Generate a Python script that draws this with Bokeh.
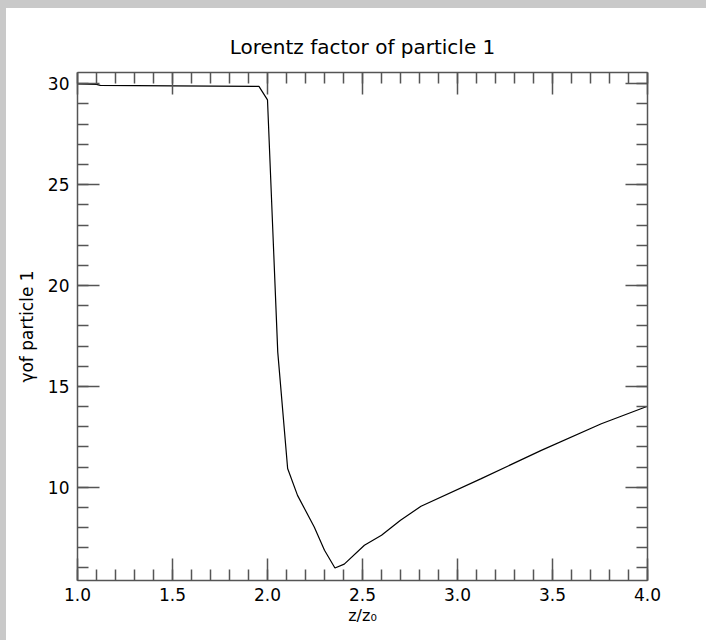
from bokeh.plotting import figure
from bokeh.models import (LinearAxis, SingleIntervalTicker, Range1d, Spacer,
                          PrintfTickFormatter, CustomJSTickFormatter)
from bokeh.layouts import row, column
from bokeh.embed import file_html
from bokeh.resources import INLINE

# data
z = [1.0, 1.1, 1.12, 1.5, 1.955, 2.0, 2.054, 2.106, 2.158, 2.246, 2.30,
     2.355, 2.404, 2.51, 2.60, 2.70, 2.808, 3.125, 3.441, 3.757, 4.0]
gamma = [30.0, 29.97, 29.92, 29.9, 29.87, 29.2, 16.7, 10.93, 9.6, 8.03, 6.88,
         6.0, 6.19, 7.13, 7.62, 8.37, 9.06, 10.43, 11.83, 13.15, 14.02]

title_text = "Lorentz factor of particle 1"
x_label = "z/z\u2080"
y_label = "\u03b3of particle 1"

FONT = "DejaVu Sans"
AX = "#555555"

p = figure(width=700, height=632, x_range=Range1d(1.0, 4.0), y_range=Range1d(5.38, 30.56),
           output_backend="svg", toolbar_location=None, title=title_text,
           min_border_left=71, min_border_right=59, min_border_top=64, min_border_bottom=60,
           x_axis_type=None, y_axis_type=None)
p.grid.visible = False
p.outline_line_color = None
p.background_fill_color = "white"
p.border_fill_color = "white"
p.title.text_font = FONT
p.title.text_font_size = "20px"
p.title.text_font_style = "normal"
p.title.text_color = "black"
p.title.align = "center"
p.title.standoff = 27

def make_axis(interval, labels=True, label=None, fmt=None):
    ax = LinearAxis(ticker=SingleIntervalTicker(interval=interval, num_minor_ticks=5))
    ax.axis_line_color = AX
    ax.axis_line_width = 1.5
    ax.major_tick_line_color = AX
    ax.major_tick_line_width = 1.5
    ax.minor_tick_line_color = AX
    ax.minor_tick_line_width = 1.5
    ax.major_tick_in = 22
    ax.major_tick_out = 0
    ax.minor_tick_in = 11
    ax.minor_tick_out = 0
    ax.major_label_text_font = FONT
    ax.major_label_text_font_size = "17px"
    ax.major_label_text_color = "black"
    ax.major_label_standoff = 8
    if fmt is not None:
        ax.formatter = fmt
    if not labels:
        ax.formatter = CustomJSTickFormatter(code="return '';")
        ax.major_label_standoff = 0
    if label:
        ax.axis_label = label
        ax.axis_label_text_font = FONT
        ax.axis_label_text_font_size = "17px"
        ax.axis_label_text_font_style = "normal"
        ax.axis_label_text_color = "black"
        ax.axis_label_standoff = 6
    return ax

xb = make_axis(0.5, True, x_label, PrintfTickFormatter(format="%.1f"))
xb.axis_label_text_font_size = "16px"
xb.axis_label_standoff = 2
xb.major_label_standoff = 7
p.add_layout(xb, "below")
p.add_layout(make_axis(0.5, False), "above")
yl = make_axis(5, True, y_label)
yl.axis_label_standoff = 8
p.add_layout(yl, "left")
p.add_layout(make_axis(5, False), "right")

p.line(z, gamma, line_color="black", line_width=1.2)

GREY = "#c9c9c9"
layout = row(
    Spacer(width=6, height=640, styles={"background-color": GREY}),
    column(Spacer(width=700, height=8, styles={"background-color": GREY}), p,
           spacing=0),
    spacing=0)

open("out.html", "w").write(file_html(layout, INLINE))
